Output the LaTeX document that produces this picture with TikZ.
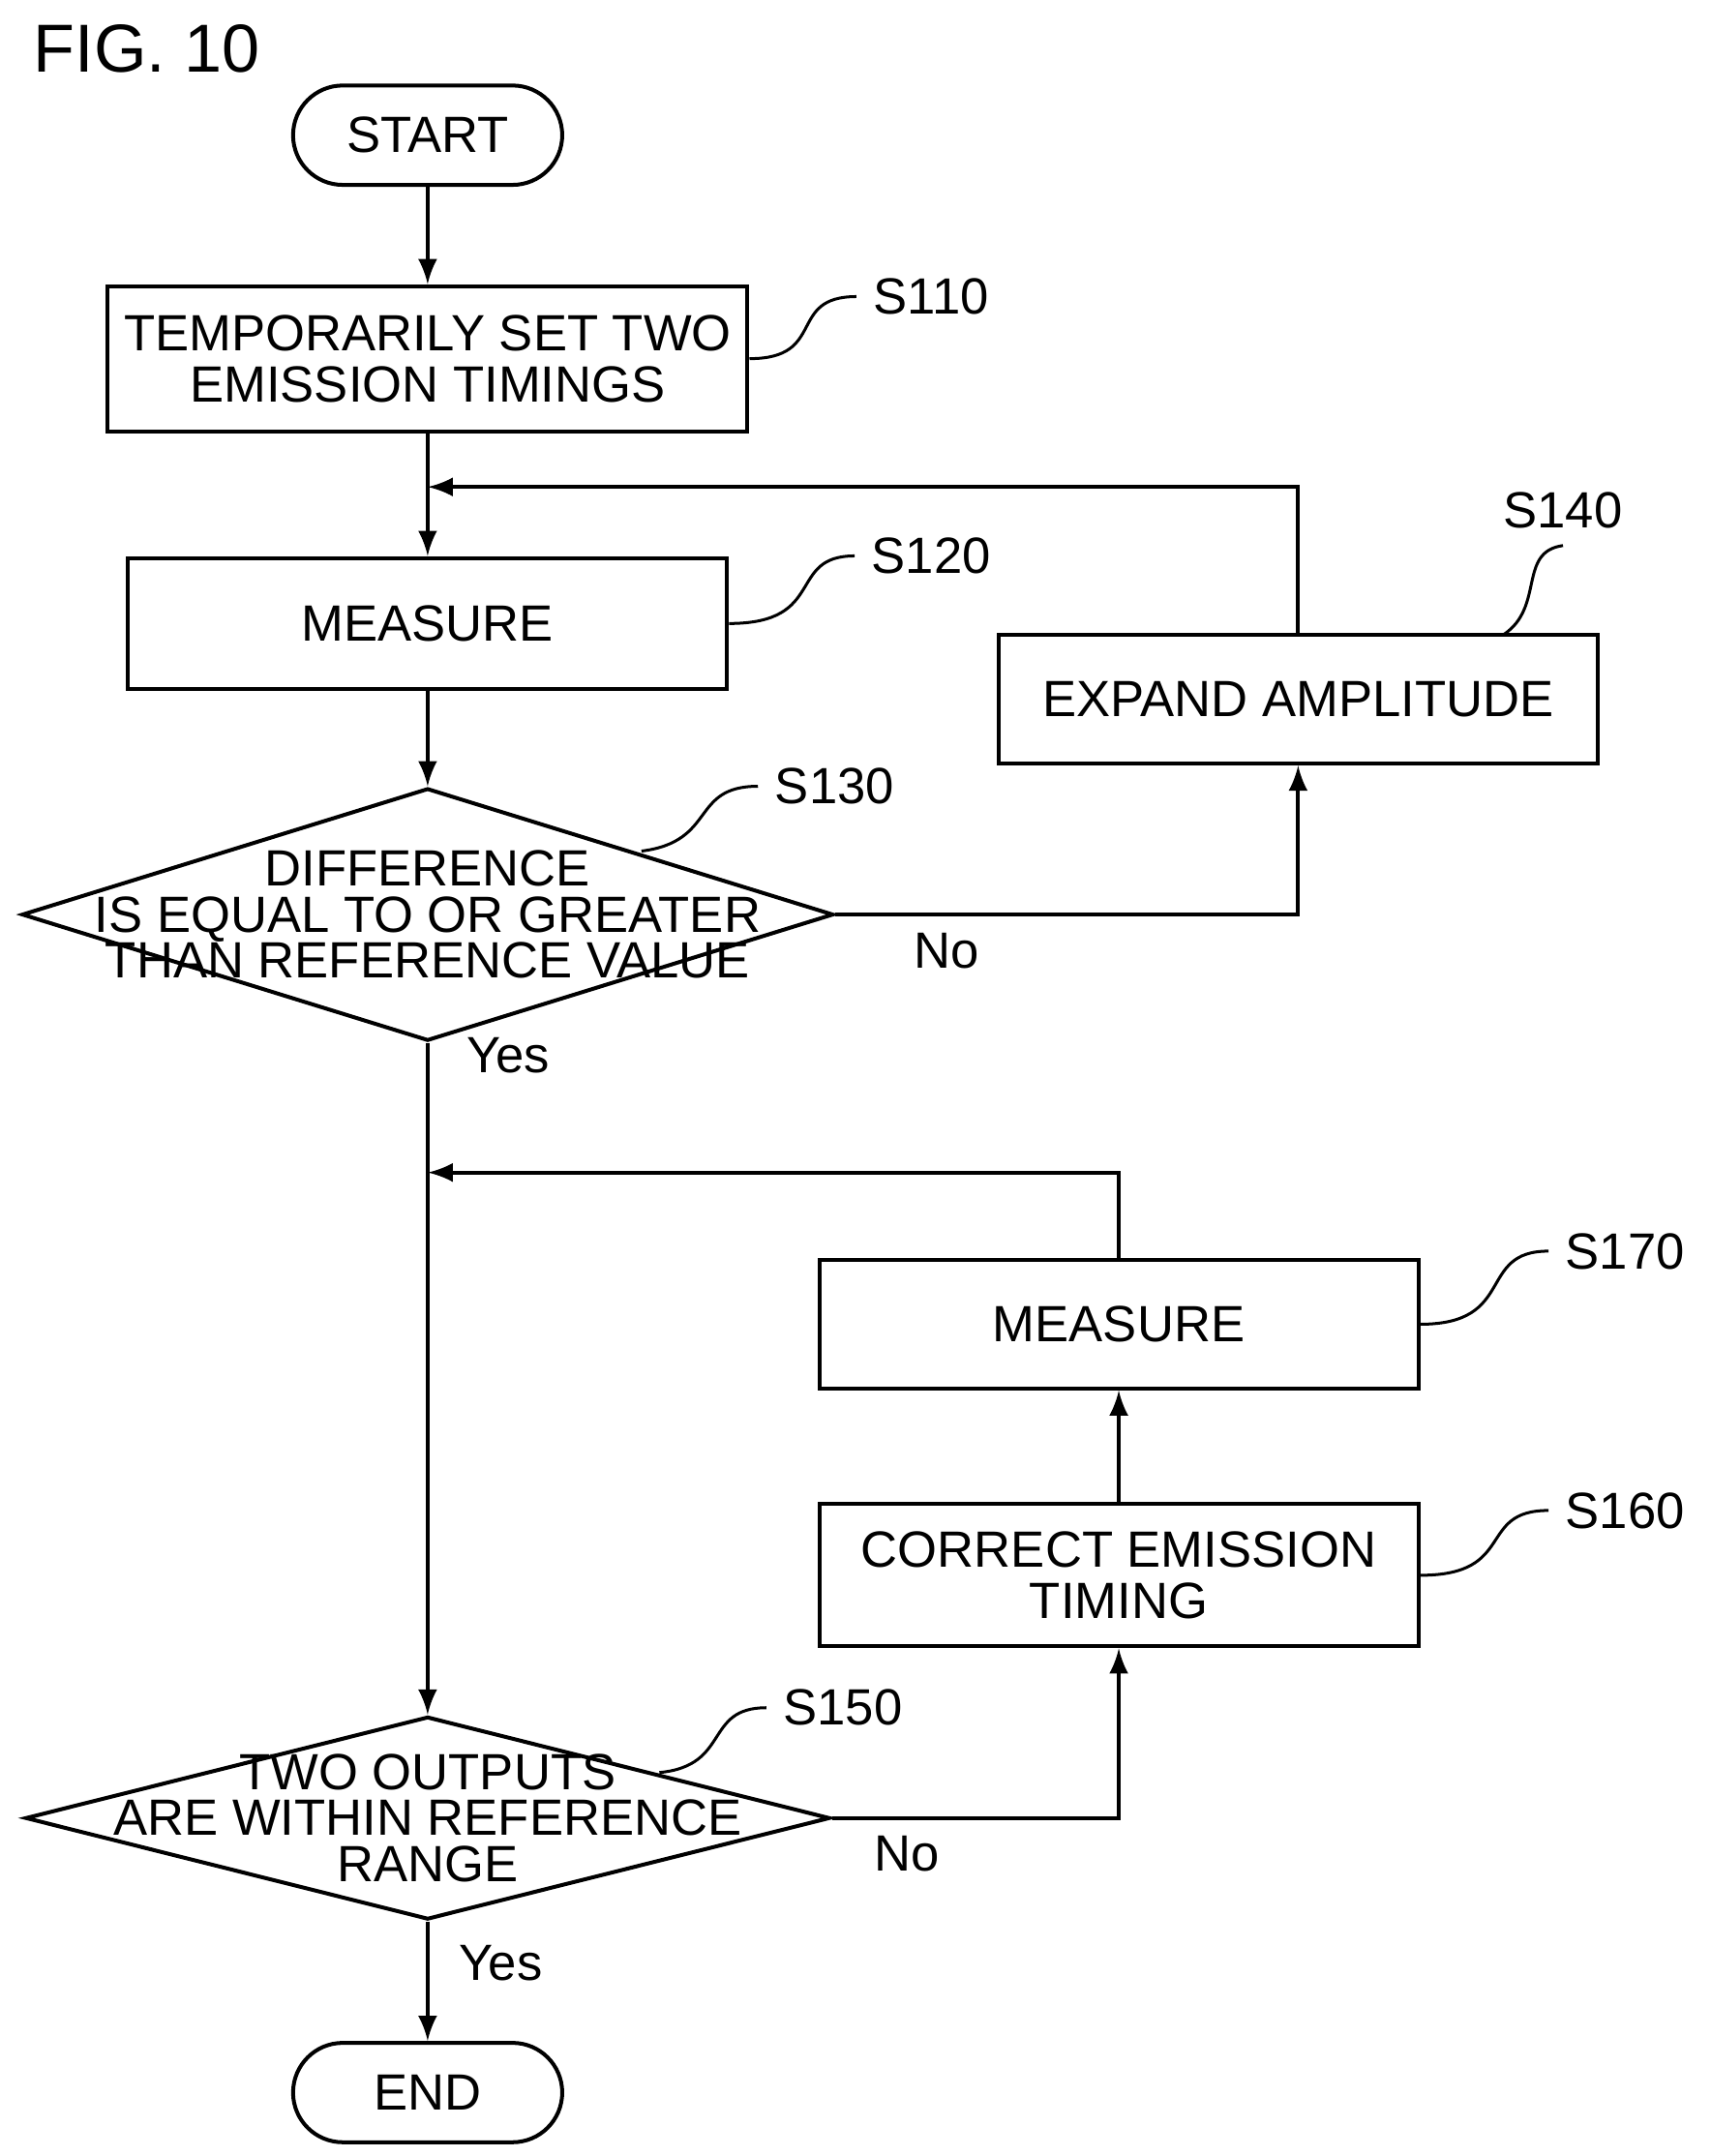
\documentclass[tikz,border=0pt]{standalone}
\usepackage{fontspec}
\setmainfont{Liberation Sans}
\usetikzlibrary{shapes,arrows,positioning}
\begin{document}
\begin{tikzpicture}[x=0.01cm,y=-0.01cm,font=\fontsize{10.5}{12.5}\selectfont]
  \tikzset{step box/.style={rectangle, draw, line width=0.8pt,
  		text centered, align=center, minimum width=4.34cm}, }
  \tikzset{term box/.style={rectangle, draw, line width=0.8pt,
  		rounded corners=0.36cm, minimum width=1.95cm, minimum height=0.72cm}, }
  \tikzset{decision/.style={diamond, draw, line width=0.8pt, inner sep=0pt}, }
  \tikzset{linea/.style={-latex, line width=0.8pt}, }
  \tikzset{tag/.style={line width=0.6pt}, }
  \useasboundingbox (0,0) rectangle (1240,1563);
    \node[anchor=west] (fig) at (12,35) {\fontsize{14}{16}\selectfont FIG. 10};
    \node[term box] (start) at (310,98) {START};
    \node[step box, minimum height=1.05cm] (s110) at (310,260) {TEMPORARILY SET TWO\\[-2pt]EMISSION TIMINGS};
    \node[step box, minimum height=0.95cm] (s120) at (310,452) {MEASURE};
    \node[decision, minimum width=5.88cm, minimum height=1.83cm] (s130) at (310,663) {};
    \node[align=center] at (s130) {DIFFERENCE\\[-3pt]IS EQUAL TO OR GREATER\\[-3pt]THAN REFERENCE VALUE};
    \node[step box, minimum height=0.93cm] (s140) at (941,507) {EXPAND AMPLITUDE};
    \node[step box, minimum height=0.93cm] (s170) at (811,960) {MEASURE};
    \node[step box, minimum height=1.03cm] (s160) at (811,1142) {CORRECT EMISSION\\[-2pt]TIMING};
    \node[decision, minimum width=5.83cm, minimum height=1.47cm] (s150) at (310,1318) {};
    \node[align=center] at (s150) {TWO OUTPUTS\\[-3pt]ARE WITHIN REFERENCE\\[-3pt]RANGE};
    \node[term box] (end) at (310,1517) {END};
    \coordinate (j1) at (310,353);
    \coordinate (j2) at (310,850);

    % step tags
    \node (t110) at (675,215) {S110};
    \node (t120) at (675,403) {S120};
    \node (t130) at (605,570) {S130};
    \node (t140) at (1133,370) {S140};
    \node (t170) at (1178,907) {S170};
    \node (t160) at (1178,1095) {S160};
    \node (t150) at (611,1238) {S150};
    \draw[tag] (s110.east) .. controls (600,260) and (570,215) .. (t110.west);
    \draw[tag] (s120.east) .. controls (600,452) and (570,403) .. (t120.west);
    \draw[tag] (465,617) .. controls (520,610) and (500,570) .. (t130.west);
    \draw[tag] (1090,460) .. controls (1120,440) and (1100,400) .. (t140.south);
    \draw[tag] (s170.east) .. controls (1100,960) and (1070,907) .. (t170.west);
    \draw[tag] (s160.east) .. controls (1100,1142) and (1070,1095) .. (t160.west);
    \draw[tag] (478,1285) .. controls (530,1280) and (510,1238) .. (t150.west);

    % flow
    \foreach \x /\y in{start/s110,s120/s130,s150/end,s160/s170}
      \draw[linea] (\x) -- (\y);
    \draw[line width=0.8pt] (s110) -- (j1);
    \draw[linea] (j1) -- (s120);
    \draw[linea] (s130.east) -| node[pos=0.12, below] {No} (s140);
    \draw[linea] (s140) |- (j1);
    \draw[line width=0.8pt] (s130.south) -- node[pos=0.1, right=0.15cm] {Yes} (j2);
    \draw[linea] (j2) -- (s150);
    \draw[linea] (s150.east) -| node[pos=0.13, below] {No} (s160);
    \draw[linea] (s170) |- (j2);
    \node at (363,1423) {Yes};
\end{tikzpicture}
\end{document}
